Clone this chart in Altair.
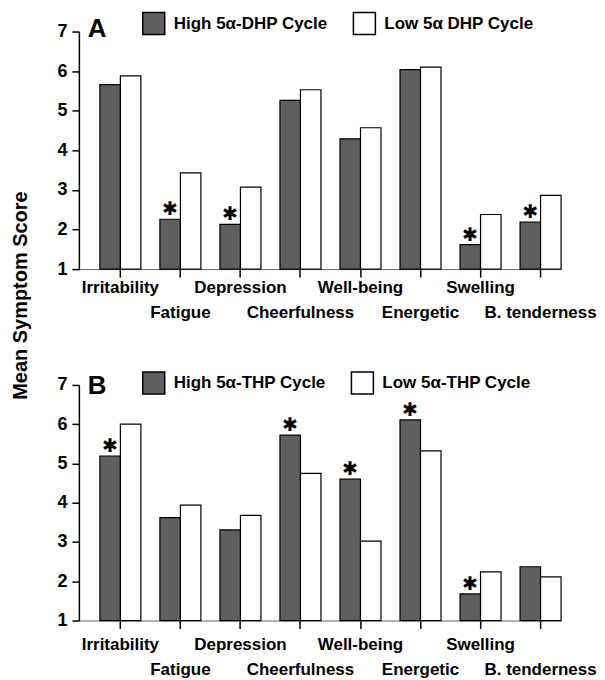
import altair as alt
import pandas as pd

categories = ["Irritability", "Fatigue", "Depression", "Cheerfulness",
              "Well-being", "Energetic", "Swelling", "B. tenderness"]

a_high = [5.66, 2.26, 2.13, 5.26, 4.29, 6.04, 1.62, 2.19]
a_low = [5.88, 3.43, 3.07, 5.53, 4.57, 6.10, 2.38, 2.86]
a_sig = [False, True, True, False, False, False, True, True]
a_labels = ["High 5\u03b1-DHP Cycle", "Low 5\u03b1 DHP Cycle"]

b_high = [5.19, 3.62, 3.31, 5.72, 4.60, 6.11, 1.68, 2.37]
b_low = [6.00, 3.94, 3.68, 4.75, 3.02, 5.32, 2.24, 2.11]
b_sig = [True, False, False, True, True, True, True, False]
b_labels = ["High 5\u03b1-THP Cycle", "Low 5\u03b1-THP Cycle"]

y_ticks = [1, 2, 3, 4, 5, 6, 7]
second_row = ["Fatigue", "Cheerfulness", "Energetic", "B. tenderness"]

FONT = "Liberation Sans, Arial, Helvetica, sans-serif"
HIGH_FILL = "#5f5f5f"


def panel(letter, high, low, sig, labels, height, label_pad, y_title,
          legend_y, title_dy):
    rows = []
    for c, h, l, s in zip(categories, high, low, sig):
        rows.append({"cat": c, "series": labels[0], "value": h, "sig": s})
        rows.append({"cat": c, "series": labels[1], "value": l, "sig": False})
    df = pd.DataFrame(rows)

    row_list = ",".join("'" + s + "'" for s in second_row)
    x = alt.X(
        "cat:N", sort=categories, title=None,
        scale=alt.Scale(paddingInner=0.317, paddingOuter=0.175, align=1),
        axis=alt.Axis(
            labelAngle=0, labelFont=FONT, labelFontSize=17,
            labelFontWeight="bold", labelColor="black",
            labelPadding=label_pad, labelLineHeight=25,
            labelOverlap=False, labelBound=False, labelFlush=False,
            labelLimit=0,
            labelExpr="indexof([" + row_list + "], datum.value) >= 0 ? ['', datum.value] : datum.value",
            tickSize=8, tickWidth=1.5, tickColor="black",
            domainColor="#666", domainWidth=1, grid=False,
        ),
    )
    xo = alt.XOffset("series:N", sort=labels,
                     scale=alt.Scale(paddingInner=0, paddingOuter=0))
    y_axis_kwargs = dict(
        values=y_ticks, format="d", grid=False,
        labelFont=FONT, labelFontSize=18, labelFontWeight="bold",
        labelColor="black", labelPadding=5,
        tickSize=7, tickWidth=1.5, tickColor="black",
        domainColor="black", domainWidth=1.5,
    )
    if y_title:
        y_axis_kwargs.update(
            title=y_title, titleFont=FONT, titleFontSize=20,
            titleFontWeight="bold", titleColor="black",
            titleAngle=270, titleAlign="center", titleBaseline="middle",
            titleX=-58, titleY=264,
        )
    else:
        y_axis_kwargs.update(title=None)
    y = alt.Y("value:Q", scale=alt.Scale(domain=[1, 7], nice=False, zero=False),
              axis=alt.Axis(**y_axis_kwargs))

    bars = alt.Chart(df).mark_bar(stroke="black", strokeWidth=1.2).encode(
        x=x, xOffset=xo, y=y, y2=alt.datum(1),
        color=alt.Color(
            "series:N", sort=labels,
            scale=alt.Scale(domain=labels, range=[HIGH_FILL, "white"]),
            legend=alt.Legend(
                title=None, orient="none", direction="horizontal",
                legendX=63, legendY=legend_y,
                symbolType="square", symbolSize=484,
                symbolStrokeColor="black", symbolStrokeWidth=1.5,
                symbolOpacity=1,
                labelFont=FONT, labelFontSize=17, labelFontWeight="bold",
                labelColor="black", labelOffset=8, columnPadding=22,
                labelLimit=0,
            ),
        ),
    )
    stars = alt.Chart(df).transform_filter("datum.sig").mark_text(
        text="\u2731", font="DejaVu Sans", fontSize=19, fontWeight="bold",
        baseline="bottom", dy=0, color="black",
    ).encode(x=x, xOffset=xo, y=y)

    return alt.layer(bars, stars).properties(
        width=483, height=height,
        title=alt.TitleParams(
            letter, anchor="start", frame="group", font=FONT, fontSize=26,
            fontWeight="bold", color="black", dx=9, dy=title_dy,
            baseline="alphabetic",
        ),
    )


pa = panel("A", a_high, a_low, a_sig, a_labels, 238, 2, "Mean Symptom Score",
           -20, 55)
pb = panel("B", b_high, b_low, b_sig, b_labels, 236, 8, None, -14, 53)

chart = alt.vconcat(pa, pb, spacing=116, bounds="flush").resolve_scale(
    color="independent", x="independent", xOffset="independent", y="independent"
).properties(
    padding={"left": 3, "top": 3, "right": 0, "bottom": 0},
    background="white",
).configure_view(stroke=None)

chart.save("out.html", embed_options={"renderer": "svg", "actions": False})
